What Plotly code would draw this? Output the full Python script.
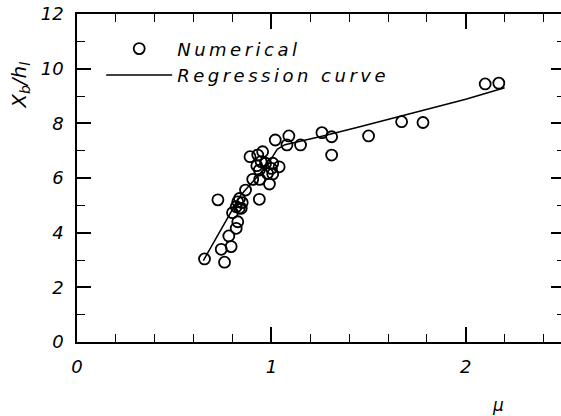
import plotly.graph_objects as go

# Numerical results (mu, Xb/hl)
mu_num = [0.656, 0.759, 0.742, 0.793, 0.781, 0.819, 0.827, 0.800, 0.845, 0.827,
          0.836, 0.819, 0.725, 0.938, 0.867, 0.904, 0.940, 0.990, 0.890, 0.930,
          0.955, 0.947, 0.970, 1.007, 1.040, 0.938, 0.980, 1.007, 1.020, 1.090,
          1.080, 1.150, 1.260, 1.310, 1.310, 1.500, 1.670, 1.780, 2.100, 2.170,
          0.850, 0.835, 0.925, 1.000]
xb_num = [3.04, 2.92, 3.39, 3.49, 3.88, 4.16, 4.40, 4.73, 4.89, 5.13,
          5.25, 4.95, 5.20, 5.22, 5.56, 5.95, 5.95, 5.78, 6.78, 6.84,
          6.96, 6.60, 6.54, 6.54, 6.41, 6.29, 6.17, 6.15, 7.39, 7.54,
          7.21, 7.21, 7.66, 7.51, 6.84, 7.54, 8.06, 8.03, 9.44, 9.47,
          5.10, 4.90, 6.45, 6.35]

# Regression curve
mu_reg = [0.65, 0.72, 0.80, 0.84, 0.89, 0.94, 0.99, 1.03, 1.07, 1.14, 1.26, 1.44, 1.70, 2.00, 2.20]
xb_reg = [2.98, 3.85, 4.83, 5.35, 5.75, 6.15, 6.60, 7.05, 7.22, 7.33, 7.53, 7.85, 8.33, 8.88, 9.30]

x_ticks = [0, 1, 2]
y_ticks = [0, 2, 4, 6, 8, 10, 12]

FONT = "DejaVu Sans"
SP = '<span style="letter-spacing:3.5px">{}</span>'

fig = go.Figure()
fig.add_trace(go.Scatter(
    x=mu_num, y=xb_num, mode="markers", name=SP.format("Numerical"),
    marker=dict(symbol="circle-open", size=11, color="black", line=dict(width=1.8, color="black")),
))
fig.add_trace(go.Scatter(
    x=mu_reg, y=xb_reg, mode="lines", name=SP.format("Regression curve"),
    line=dict(color="black", width=1.5),
))
# invisible trace to carry right-side tick axis
fig.add_trace(go.Scatter(x=[0], y=[0], yaxis="y2", mode="markers",
                         marker=dict(opacity=0), showlegend=False, hoverinfo="skip"))

tickfont = dict(family=FONT, size=18, color="black", style="italic")

fig.update_layout(
    width=561, height=416,
    margin=dict(l=77, r=0, t=14, b=74),
    paper_bgcolor="white", plot_bgcolor="white",
    showlegend=True,
    legend=dict(x=0.05, y=0.95, xanchor="left", yanchor="top",
                bgcolor="rgba(0,0,0,0)",
                font=dict(family=FONT, size=18, color="black", style="italic"),
                itemwidth=66, tracegroupgap=0),
    xaxis=dict(range=[0, 2.49], tickvals=x_ticks, ticktext=[str(v) for v in x_ticks],
               ticks="inside", ticklen=15, tickwidth=1.5, tickcolor="black",
               minor=dict(dtick=0.2, ticks="inside", ticklen=8, tickwidth=1.3, tickcolor="black"),
               showline=True, linecolor="black", linewidth=1.5, mirror="ticks",
               showgrid=False, zeroline=False, tickfont=tickfont, ticklabelstandoff=8),
    yaxis=dict(range=[0, 12], tickvals=y_ticks, ticktext=[str(v) for v in y_ticks],
               ticks="inside", ticklen=14, tickwidth=1.5, tickcolor="black",
               minor=dict(dtick=1, ticks="inside", ticklen=8, tickwidth=1.3, tickcolor="black"),
               showline=True, linecolor="black", linewidth=1.5, mirror=False,
               showgrid=False, zeroline=False, tickfont=tickfont, ticklabelstandoff=8),
    yaxis2=dict(overlaying="y", side="right", matches="y", range=[0, 12],
                tickvals=y_ticks, showticklabels=False,
                ticks="inside", ticklen=10, tickwidth=1.5, tickcolor="black",
                minor=dict(dtick=1, ticks="inside", ticklen=4, tickwidth=1.3, tickcolor="black"),
                showline=False, showgrid=False, zeroline=False),
)

fig.add_annotation(text="X<sub>b</sub>/h<sub>l</sub>", xref="paper", yref="paper",
                   x=-0.118, y=0.784, xanchor="center", yanchor="middle",
                   textangle=-90, showarrow=False,
                   font=dict(family=FONT, size=20, color="black", style="italic"))
fig.add_annotation(text="μ", xref="paper", yref="paper",
                   x=0.87, y=-0.192, xanchor="center", yanchor="middle", showarrow=False,
                   font=dict(family=FONT, size=17, color="black", style="italic"))

fig.write_html("out.html", config={"displayModeBar": False},
               post_script="document.body.style.margin='0';")
